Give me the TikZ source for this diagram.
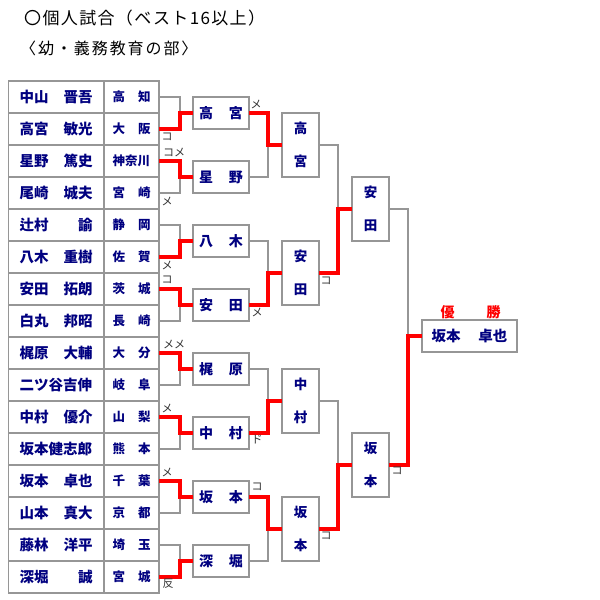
\documentclass[tikz,border=0pt]{standalone}
\usepackage{fontspec}
\newfontfamily\cjk{Noto Sans CJK JP}
\newfontfamily\cjkta[LetterSpace=8]{Noto Sans CJK JP}
\newfontfamily\cjktb[LetterSpace=12]{Noto Sans CJK JP}
\definecolor{lineg}{RGB}{150,150,150}
\definecolor{namec}{RGB}{0,0,128}
\definecolor{resc}{RGB}{50,50,50}
\tikzset{
  cell/.style={draw=lineg, line width=1.3pt, fill=white, inner sep=0pt, outer sep=0pt, minimum height=32pt, text=namec},
  namecell/.style={cell, minimum width=95.5pt, font=\cjk\bfseries\fontsize{14.5}{14.5}\selectfont},
  prefcell/.style={cell, minimum width=55pt, font=\cjk\bfseries\fontsize{12.5}{12.5}\selectfont},
  hbox/.style={cell, minimum width=56pt, font=\cjk\bfseries\fontsize{14}{14}\selectfont},
  vbox/.style={cell, minimum width=37pt, minimum height=64pt, align=center, font=\cjk\bfseries\fontsize{13.5}{33}\selectfont},
  champ/.style={cell, minimum width=95pt, font=\cjk\bfseries\fontsize{14.5}{14.5}\selectfont},
  lose/.style={draw=lineg, line width=1.3pt},
  win/.style={draw=red, line width=3.6pt},
  res/.style={inner sep=0pt, text=resc, font=\cjk\fontsize{11}{11}\selectfont},
  ttl/.style={anchor=west, inner sep=0pt, text=black},
}
\begin{document}
\begin{tikzpicture}[x=1pt, y=-1pt]
\useasboundingbox (0,0) rectangle (600,600);
% titles
\node[ttl, font=\cjkta\fontsize{17}{17}\selectfont] (t1) at (24,18.5) {〇個人試合（ベスト16以上）};
\node[ttl, font=\cjktb\fontsize{16}{16}\selectfont] (t2) at (20,48.5) {〈幼・義務教育の部〉};
% table
\foreach \i/\a/\b/\p in {
 1/中山/晋吾/高\hfill 知, 2/高宮/敏光/大\hfill 阪, 3/星野/篤史/神奈川, 4/尾崎/城夫/宮\hfill 崎,
 5/辻村/諭/静\hfill 岡, 6/八木/重樹/佐\hfill 賀, 7/安田/拓朗/茨\hfill 城, 8/白丸/邦昭/長\hfill 崎,
 9/梶原/大輔/大\hfill 分, 10/二ツ谷吉伸//岐\hfill 阜, 11/中村/優介/山\hfill 梨, 12/坂本健志郎//熊\hfill 本,
 13/坂本/卓也/千\hfill 葉, 14/山本/真大/京\hfill 都, 15/藤林/洋平/埼\hfill 玉, 16/深堀/誠/宮\hfill 城}{
  \node[namecell] (n\i) at (56.25, 65+32*\i) {\hbox to 73pt{\a\hfill\b}};
  \node[prefcell] (p\i) at (131.5, 65+32*\i) {\hbox to 38pt{\p}};
}
% round 1 boxes
\foreach \j/\a/\b in {1/高/宮, 2/星/野, 3/八/木, 4/安/田, 5/梶/原, 6/中/村, 7/坂/本, 8/深/堀}{
  \node[hbox] (a\j) at (221, 49+64*\j) {\hbox to 44pt{\a\hfill\b}};
}
% round 2 boxes
\foreach \k/\a/\b in {1/高/宮, 2/安/田, 3/中/村, 4/坂/本}{
  \node[vbox] (b\k) at (300.5, 17+128*\k) {\a\\\b};
}
% round 3 boxes
\node[vbox] (c1) at (370.5,209) {安\\田};
\node[vbox] (c2) at (370.5,465) {坂\\本};
% champion
\node[champ] (w) at (469.5,336) {\hbox to 76pt{坂本\hfill 卓也}};
\node[inner sep=0pt, text=red, font=\cjk\bfseries\fontsize{14}{14}\selectfont] (yu) at (447.5,312) {優};
\node[inner sep=0pt, text=red, font=\cjk\bfseries\fontsize{14}{14}\selectfont] (sho) at (493.5,312) {勝};
% round 1 connectors
\foreach \j in {1,...,8}{
  \pgfmathtruncatemacro\u{2*\j-1}
  \pgfmathtruncatemacro\v{2*\j}
  \draw[lose] (p\u.east) -- ++(21,0) |- (a\j.west);
  \draw[lose] (p\v.east) -- ++(21,0) |- (a\j.west);
}
% round 2 connectors
\foreach \k in {1,...,4}{
  \pgfmathtruncatemacro\u{2*\k-1}
  \pgfmathtruncatemacro\v{2*\k}
  \draw[lose] (a\u.east) -- ++(19,0) |- (b\k.west);
  \draw[lose] (a\v.east) -- ++(19,0) |- (b\k.west);
}
% round 3 connectors
\draw[lose] (b1.east) -- ++(19,0) |- (c1.west);
\draw[lose] (b2.east) -- ++(19,0) |- (c1.west);
\draw[lose] (b3.east) -- ++(19,0) |- (c2.west);
\draw[lose] (b4.east) -- ++(19,0) |- (c2.west);
% final connectors
\draw[lose] (c1.east) -- ++(19,0) |- (w.west);
\draw[lose] (c2.east) -- ++(19,0) |- (w.west);
% winners
\draw[win] (p2.east) -- ++(21,0) |- (a1.west);
\draw[win] (p3.east) -- ++(21,0) |- (a2.west);
\draw[win] (p6.east) -- ++(21,0) |- (a3.west);
\draw[win] (p7.east) -- ++(21,0) |- (a4.west);
\draw[win] (p9.east) -- ++(21,0) |- (a5.west);
\draw[win] (p11.east) -- ++(21,0) |- (a6.west);
\draw[win] (p13.east) -- ++(21,0) |- (a7.west);
\draw[win] (p16.east) -- ++(21,0) |- (a8.west);
\draw[win] (a1.east) -- ++(19,0) |- (b1.west);
\draw[win] (a4.east) -- ++(19,0) |- (b2.west);
\draw[win] (a6.east) -- ++(19,0) |- (b3.west);
\draw[win] (a7.east) -- ++(19,0) |- (b4.west);
\draw[win] (b2.east) -- ++(19,0) |- (c1.west);
\draw[win] (b4.east) -- ++(19,0) |- (c2.west);
\draw[win] (c2.east) -- ++(19,0) |- (w.west);
% results
\node[res] (r1) at (167,137) {コ};
\node[res] (r2) at (174,152) {コメ};
\node[res] (r3) at (167,201) {メ};
\node[res] (r4) at (256,104) {メ};
\node[res] (r5) at (167,265) {メ};
\node[res] (r6) at (167,280) {コ};
\node[res] (r7) at (257,312) {メ};
\node[res] (r8) at (326,281) {コ};
\node[res] (r9) at (174,344) {メメ};
\node[res] (r10) at (167,408) {メ};
\node[res] (r11) at (257,439) {ド};
\node[res] (r12) at (167,472) {メ};
\node[res] (r13) at (257,487) {コ};
\node[res] (r14) at (168,584) {反};
\node[res] (r15) at (326,536) {コ};
\node[res] (r16) at (397,471) {コ};
\end{tikzpicture}
\end{document}
